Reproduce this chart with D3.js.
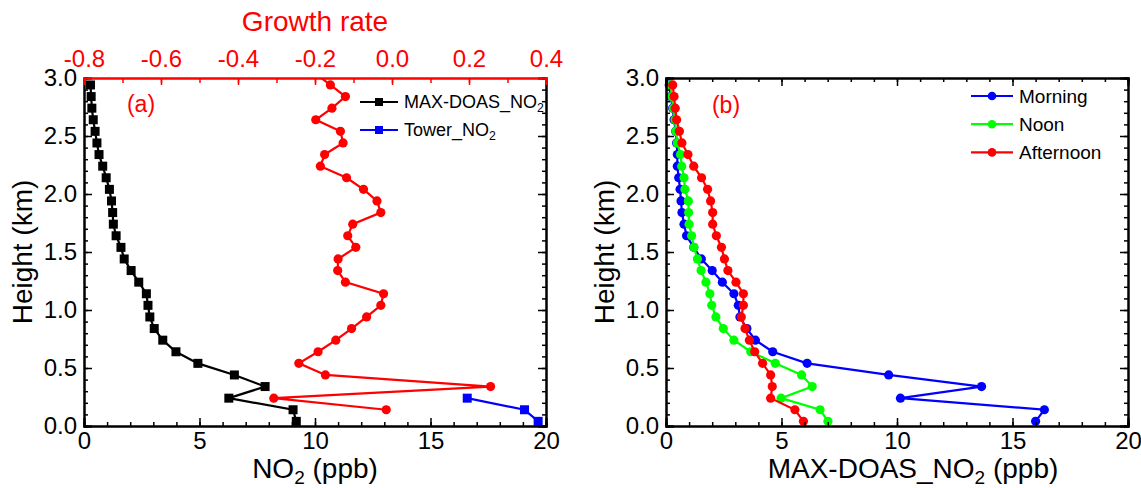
<!DOCTYPE html>
<html><head><meta charset="utf-8">
<script src="https://cdn.jsdelivr.net/npm/d3@7"></script>
<style>body{margin:0;background:#fff;} svg{display:block;font-family:Arial,"Liberation Sans",sans-serif;}</style>
</head><body><svg id="c" width="1141" height="488"></svg>
<script>
// ---- data ----
const heights = [0.04,0.14,0.24,0.34,0.44,0.54,0.64,0.74,0.84,0.94,1.04,1.14,1.24,1.34,1.44,1.54,1.64,1.74,1.84,1.94,2.04,2.14,2.24,2.34,2.44,2.54,2.64,2.74,2.84,2.94];
const maxdoasNO2 = [9.19,9.05,6.27,7.84,6.51,4.93,3.98,3.41,3.04,2.85,2.77,2.70,2.37,2.04,1.74,1.60,1.39,1.27,1.24,1.19,1.10,0.96,0.81,0.65,0.56,0.48,0.40,0.34,0.31,0.28];
const towerHeights = [0.04,0.14,0.24];
const towerNO2 = [19.66,19.07,16.59];
const growthHeights = [0.14,0.24,0.34,0.44,0.54,0.64,0.74,0.84,0.94,1.04,1.14,1.24,1.34,1.44,1.54,1.64,1.74,1.84,1.94,2.04,2.14,2.24,2.34,2.44,2.54,2.64,2.74,2.84,2.94,3.04];
const growthRate = [-0.015,-0.307,0.256,-0.173,-0.242,-0.192,-0.146,-0.105,-0.066,-0.029,-0.022,-0.121,-0.141,-0.140,-0.094,-0.115,-0.102,-0.029,-0.039,-0.074,-0.118,-0.186,-0.175,-0.127,-0.134,-0.198,-0.156,-0.121,-0.160,-0.200];
const morning = [16.0,16.38,10.15,13.66,9.64,6.11,4.62,3.87,3.5,3.2,3.13,2.94,2.44,2.0,1.53,1.2,0.89,0.78,0.69,0.65,0.61,0.55,0.49,0.49,0.46,0.42,0.35,0.29,0.20,0.14];
const noon = [7.01,6.67,4.98,6.33,5.87,4.73,3.67,2.94,2.48,2.16,1.98,1.90,1.73,1.52,1.36,1.21,1.11,1.00,0.98,0.97,0.82,0.78,0.68,0.63,0.49,0.43,0.39,0.32,0.25,0.20];
const afternoon = [5.95,5.58,4.53,4.60,4.53,4.18,3.84,3.61,3.42,3.26,3.35,3.35,3.03,2.68,2.53,2.40,2.18,2.02,2.02,1.93,1.80,1.54,1.20,0.95,0.69,0.58,0.46,0.40,0.35,0.29];
const xTicks = [0,5,10,15,20];
const yTicks = [0,0.5,1.0,1.5,2.0,2.5,3.0];
const topTicks = [-0.8,-0.6,-0.4,-0.2,0.0,0.2,0.4];
const legendA = ["MAX-DOAS_NO", "Tower_NO"];
const legendB = ["Morning","Noon","Afternoon"];

const svg = d3.select("#c");
const TF = 24, TITLE = 28;
const fmt1 = d => d.toFixed(1);

function frame(g, x, y, topColor) {
  const [x0,x1] = x.range(), [y0,y1] = y.range();
  const minorX = d3.range(0,20.001,1), minorY = d3.range(0,3.001,0.1);
  g.append("g").attr("transform",`translate(${x0},0)`)
    .call(d3.axisLeft(y).tickValues(minorY).tickSize(-4).tickFormat(""));
  g.append("g").attr("transform",`translate(${x0},0)`)
    .call(d3.axisLeft(y).tickValues(yTicks).tickSize(-8).tickPadding(7).tickFormat(fmt1))
    .call(a=>a.selectAll("text").attr("font-size",TF).attr("fill","#000"));
  g.append("g").attr("transform",`translate(${x1},0)`)
    .call(d3.axisRight(y).tickValues(minorY).tickSize(-4).tickFormat(""));
  g.append("g").attr("transform",`translate(${x1},0)`)
    .call(d3.axisRight(y).tickValues(yTicks).tickSize(-8).tickFormat(""));
  g.append("g").attr("transform",`translate(0,${y0})`)
    .call(d3.axisBottom(x).tickValues(minorX).tickSize(-4).tickFormat(""));
  g.append("g").attr("transform",`translate(0,${y0})`)
    .call(d3.axisBottom(x).tickValues(xTicks).tickSize(-8).tickPadding(6).tickFormat(d3.format("d")))
    .call(a=>a.selectAll("text").attr("font-size",TF).attr("fill","#000"));
  if (!topColor) {
    g.append("g").attr("transform",`translate(0,${y1})`)
      .call(d3.axisTop(x).tickValues(minorX).tickSize(-4).tickFormat(""));
    g.append("g").attr("transform",`translate(0,${y1})`)
      .call(d3.axisTop(x).tickValues(xTicks).tickSize(-8).tickFormat(""));
  }
  g.selectAll(".domain").attr("stroke-width",2);
  g.selectAll(".tick line").attr("stroke-width",1.5);
}

function drawSeries(g, x, y, xs, ys, color, shape) {
  const pts = xs.map((v,i)=>[x(v), y(ys[i])]);
  g.append("path").attr("d", d3.line()(pts)).attr("fill","none").attr("stroke",color).attr("stroke-width",2.2);
  if (shape==="square") {
    g.selectAll(null).data(pts).enter().append("rect")
      .attr("x",d=>d[0]-4.5).attr("y",d=>d[1]-4.5).attr("width",9).attr("height",9).attr("fill",color);
  } else {
    g.selectAll(null).data(pts).enter().append("circle")
      .attr("cx",d=>d[0]).attr("cy",d=>d[1]).attr("r",4.6).attr("fill",color);
  }
}

function subText(g, x, y, main, sub, after, size, anchor, color, rotate) {
  const t = g.append("text").attr("font-size",size).attr("fill",color||"#000").attr("text-anchor",anchor||"start");
  if (rotate) t.attr("transform",`translate(${x},${y}) rotate(-90)`); else t.attr("x",x).attr("y",y);
  t.append("tspan").text(main);
  if (sub) {
    t.append("tspan").attr("font-size",size*0.68).attr("dy",size*0.2).text(sub);
    if (after) t.append("tspan").attr("dy",-size*0.2).text(after);
  }
  return t;
}

// ---- Panel (a) ----
const xa = d3.scaleLinear().domain([0,20]).range([84,546]);
const ya = d3.scaleLinear().domain([0,3]).range([426,78]);
const xg = d3.scaleLinear().domain([-0.8,0.4]).range([84,546]);
const ga = svg.append("g");
svg.append("defs").append("clipPath").attr("id","clipA").append("rect")
  .attr("x",84).attr("y",78).attr("width",462).attr("height",348);
const da = ga.append("g").attr("clip-path","url(#clipA)");
drawSeries(da, xa, ya, maxdoasNO2, heights, "#000", "square");
drawSeries(da, xa, ya, towerNO2, towerHeights, "#0000ff", "square");
drawSeries(da, xg, ya, growthRate, growthHeights, "#ff0000", "circle");
frame(ga, xa, ya, true);
const topAx = ga.append("g").attr("transform","translate(0,78)");
topAx.call(d3.axisTop(xg).tickValues(d3.range(-0.8,0.401,0.1)).tickSize(-5).tickFormat(""));
const topAx2 = ga.append("g").attr("transform","translate(0,78)");
topAx2.call(d3.axisTop(xg).tickValues(topTicks).tickSize(-7).tickPadding(11).tickFormat(fmt1));
[topAx, topAx2].forEach(a=>{a.selectAll(".domain").attr("stroke","#ff0000").attr("stroke-width",2);
  a.selectAll(".tick line").attr("stroke","#ff0000").attr("stroke-width",1.5);
  a.selectAll("text").attr("fill","#ff0000").attr("font-size",TF);});
ga.append("text").attr("x",315).attr("y",31).attr("text-anchor","middle").attr("font-size",TITLE)
  .attr("fill","#ff0000").text("Growth rate");
subText(ga, 315, 478, "NO", "2", " (ppb)", TITLE, "middle");
subText(ga, 32, 252, "Height (km)", null, null, TITLE, "middle", "#000", true);
ga.append("text").attr("x",141).attr("y",112).attr("text-anchor","middle").attr("font-size",23)
  .attr("fill","#ff0000").text("(a)");
[["#000",legendA[0]],["#0000ff",legendA[1]]].forEach((d,i)=>{
  const yy = 102 + i*28;
  ga.append("line").attr("x1",360).attr("x2",398).attr("y1",yy).attr("y2",yy).attr("stroke",d[0]).attr("stroke-width",2.2);
  ga.append("rect").attr("x",375).attr("y",yy-4).attr("width",8).attr("height",8).attr("fill",d[0]);
  subText(ga, 404, yy+6, d[1], "2", null, 18, "start");
});

// ---- Panel (b) ----
const xb = d3.scaleLinear().domain([0,20]).range([666,1128]);
const yb = ya;
const gb = svg.append("g");
drawSeries(gb, xb, yb, morning, heights, "#0000ff", "circle");
drawSeries(gb, xb, yb, noon, heights, "#00ff00", "circle");
drawSeries(gb, xb, yb, afternoon, heights, "#ff0000", "circle");
frame(gb, xb, yb, false);
subText(gb, 913, 478, "MAX-DOAS_NO", "2", " (ppb)", TITLE, "middle");
subText(gb, 614, 252, "Height (km)", null, null, TITLE, "middle", "#000", true);
gb.append("text").attr("x",726).attr("y",113).attr("text-anchor","middle").attr("font-size",23)
  .attr("fill","#ff0000").text("(b)");
const legCols = ["#0000ff","#00ff00","#ff0000"];
legendB.forEach((name,i)=>{
  const yy = 96 + i*28.2;
  gb.append("line").attr("x1",971).attr("x2",1013).attr("y1",yy).attr("y2",yy).attr("stroke",legCols[i]).attr("stroke-width",2.2);
  gb.append("circle").attr("cx",992).attr("cy",yy).attr("r",4.3).attr("fill",legCols[i]);
  gb.append("text").attr("x",1019).attr("y",yy+7).attr("font-size",19).text(name);
});
</script></body></html>
